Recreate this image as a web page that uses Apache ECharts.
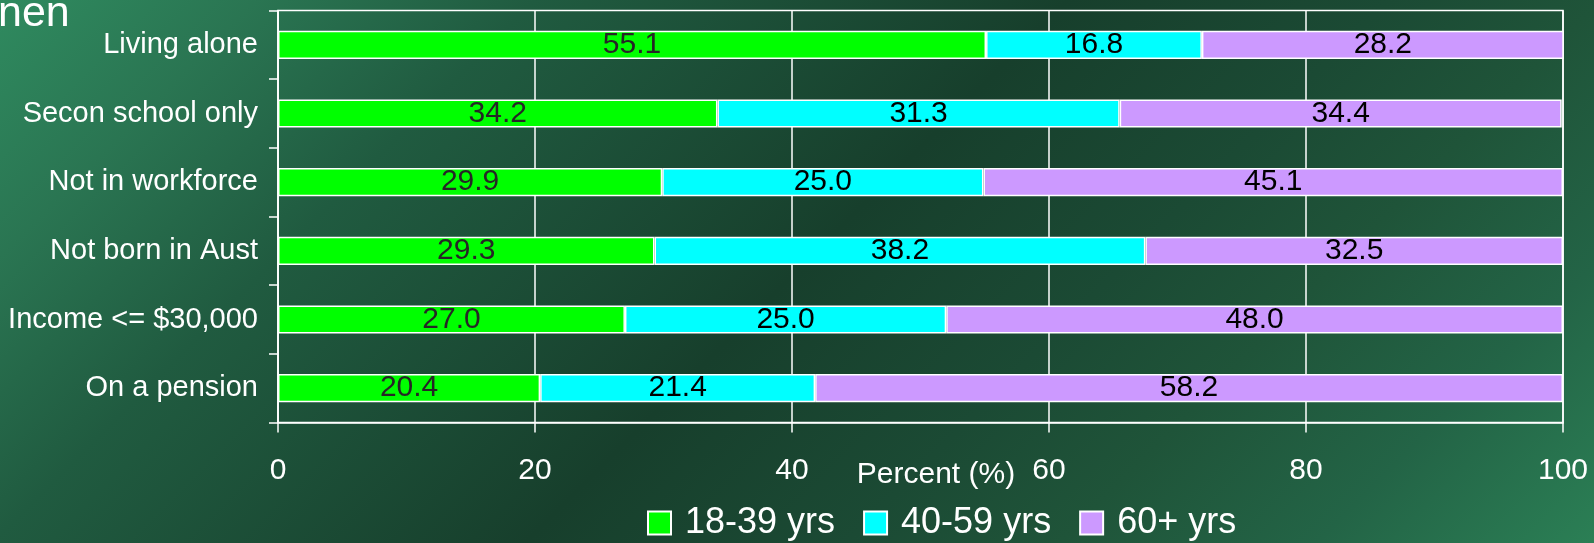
<!DOCTYPE html>
<html>
<head>
<meta charset="utf-8">
<script src="https://cdn.jsdelivr.net/npm/echarts@6/dist/echarts.min.js"></script>
<style>
  html, body { margin: 0; padding: 0; }
  #chart { width: 1594px; height: 543px; }
</style>
</head>
<body>
<div id="chart"></div>
<script>
// Row labels, top to bottom
const categories = ['Living alone', 'Secon school only', 'Not in workforce', 'Not born in Aust', 'Income <= $30,000', 'On a pension'];
// Share of each age group within every row (percent)
const age18to39 = [55.1, 34.2, 29.9, 29.3, 27.0, 20.4];
const age40to59 = [16.8, 31.3, 25.0, 38.2, 25.0, 21.4];
const age60plus = [28.2, 34.4, 45.1, 32.5, 48.0, 58.2];
const seriesNames = ['18-39 yrs', '40-59 yrs', '60+ yrs'];
const xTicks = { min: 0, max: 100, interval: 20 };
const xAxisTitle = 'Percent (%)';

const FONT = '"Liberation Sans", Arial, sans-serif';
const chart = echarts.init(document.getElementById('chart'), null, { renderer: 'canvas' });

function stackSeries(name, data, color, labelColor) {
  return {
    name: name,
    type: 'bar',
    stack: 'total',
    barWidth: '41%',
    data: data,
    itemStyle: { color: color, borderColor: '#ffffff', borderWidth: 1.5 },
    label: {
      show: true,
      position: 'inside',
      color: labelColor,
      fontFamily: FONT,
      fontSize: 30,
      formatter: p => Number(p.value).toFixed(1)
    },
    emphasis: { disabled: true }
  };
}

chart.setOption({
  animation: false,
  // diagonal slide background: bright corners top-left and bottom-right, dark centre
  backgroundColor: {
    type: 'linear', global: true, x: 0, y: 0, x2: 1068.5, y2: 1068.5,
    colorStops: [
      { offset: 0, color: '#2f8a5f' },
      { offset: 0.12, color: '#2a7552' },
      { offset: 0.25, color: '#205b40' },
      { offset: 0.5, color: '#173f2c' },
      { offset: 0.65, color: '#1b4a34' },
      { offset: 0.75, color: '#1f5439' },
      { offset: 0.87, color: '#236446' },
      { offset: 1, color: '#2b7f55' }
    ]
  },
  textStyle: { fontFamily: FONT },
  graphic: [
    {
      // heading fragment at the top-left edge
      type: 'text',
      left: -2,
      top: -7,
      style: { text: 'nen', fill: '#ffffff', font: '43px ' + FONT }
    },
    {
      // x axis title, sitting between the 40 and 60 tick labels
      type: 'text',
      x: 936,
      y: 475,
      style: {
        text: xAxisTitle, fill: '#ffffff', font: '30px ' + FONT,
        textAlign: 'center', textVerticalAlign: 'middle'
      }
    }
  ],
  grid: {
    left: 278, right: 31, top: 10.5, bottom: 120.5,
    show: true, borderColor: '#ffffff', borderWidth: 1.5,
    containLabel: false
  },
  legend: {
    data: seriesNames,
    left: 647,
    top: 505,
    padding: 0,
    itemWidth: 23,
    itemHeight: 23,
    itemGap: 28,
    icon: 'rect',
    selectedMode: false,
    textStyle: { color: '#ffffff', fontSize: 36, fontFamily: FONT, padding: [0, 0, 0, 9], lineHeight: 34 }
  },
  xAxis: {
    type: 'value',
    min: xTicks.min, max: xTicks.max, interval: xTicks.interval,
    axisLine: { show: true, lineStyle: { color: '#ffffff', width: 1.5 } },
    axisTick: { show: true, length: 10, lineStyle: { color: '#ffffff', width: 1.5 } },
    splitLine: { show: true, lineStyle: { color: '#ffffff', width: 1.5 } },
    axisLabel: { color: '#ffffff', fontSize: 30, fontFamily: FONT, margin: 33 }
  },
  yAxis: {
    type: 'category',
    data: categories,
    inverse: true,
    axisLine: { show: true, lineStyle: { color: '#ffffff', width: 1.5 } },
    axisTick: { show: true, length: 9, lineStyle: { color: '#ffffff', width: 1.5 } },
    splitLine: { show: false },
    axisLabel: { color: '#ffffff', fontSize: 29, fontFamily: FONT, margin: 20 }
  },
  series: [
    stackSeries(seriesNames[0], age18to39, '#00ff00', '#262626'),
    stackSeries(seriesNames[1], age40to59, '#00ffff', '#000000'),
    stackSeries(seriesNames[2], age60plus, '#cc99ff', '#000000')
  ]
});
</script>
</body>
</html>
